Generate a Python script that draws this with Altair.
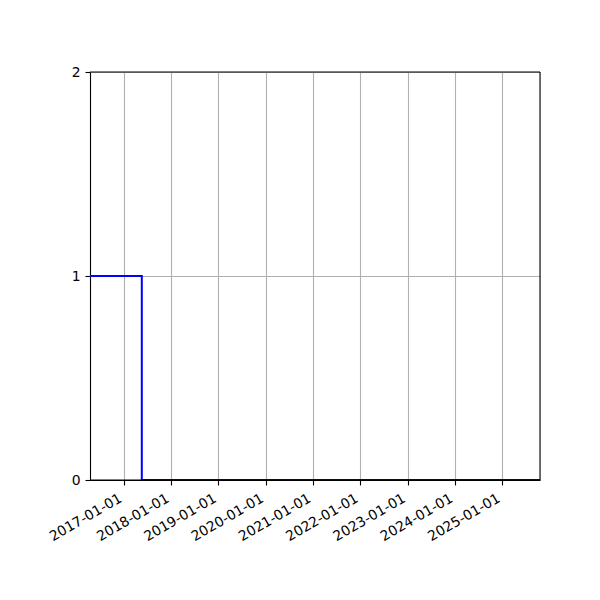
import altair as alt
import pandas as pd

dates = ["2016-04-15T00:00:00", "2017-05-20T00:00:00", "2025-10-20T00:00:00"]
values = [1, 0, 0]
x_domain = ["2016-04-15T00:00:00", "2025-10-20T00:00:00"]
tick_years = [2017, 2018, 2019, 2020, 2021, 2022, 2023, 2024, 2025]
y_domain = [0, 2]

df = pd.DataFrame({"date": dates, "value": values})

font = "DejaVu Sans"
xscale = alt.Scale(domain=x_domain, nice=False)
yscale = alt.Scale(domain=y_domain, nice=False)

x_axis = alt.Axis(
    values=[alt.DateTime(year=y, month=1, date=1) for y in tick_years],
    format="%Y-%m-%d",
    labelAngle=-30,
    labelAlign="right",
    labelBaseline="top",
    labelFont=font,
    labelFontSize=13.9,
    labelColor="black",
    labelPadding=6,
    labelOffset=-7,
    labelOverlap=False,
    tickColor="black",
    tickSize=5,
    tickWidth=1.1,
    domainColor="black",
    domainWidth=1.1,
    grid=True,
    gridColor="#b0b0b0",
    gridWidth=1.1,
    title=None,
)
y_axis = alt.Axis(
    tickCount=2,
    format="d",
    labelFont=font,
    labelFontSize=13.9,
    labelColor="black",
    labelPadding=5,
    labelOverlap=False,
    labelFlush=False,
    labelBound=False,
    tickColor="black",
    tickSize=5,
    tickWidth=1.1,
    domainColor="black",
    domainWidth=1.1,
    grid=True,
    gridColor="#b0b0b0",
    gridWidth=1.1,
    title=None,
)

line = alt.Chart(df).mark_line(interpolate="step-after", color="#0000ff", strokeWidth=2.0, clip=True).encode(
    x=alt.X("date:T", scale=xscale, axis=x_axis),
    y=alt.Y("value:Q", scale=yscale, axis=y_axis),
)

spine_h = alt.Chart(pd.DataFrame({"v": y_domain})).mark_rule(color="black", strokeWidth=1.1).encode(
    y=alt.Y("v:Q", scale=yscale, axis=y_axis)
)
spine_v = alt.Chart(pd.DataFrame({"d": [x_domain[1]]})).mark_rule(color="black", strokeWidth=1.1).encode(
    x=alt.X("d:T", scale=xscale, axis=x_axis)
)

chart = (
    alt.layer(line, spine_h, spine_v)
    .properties(
        width=450,
        height=408,
        autosize=alt.AutoSizeParams(type="none"),
        padding={"left": 82, "top": 64, "right": 52, "bottom": 112},
    )
    .configure_view(stroke="black", strokeWidth=1.1)
    .configure(background="white")
)

chart.save("out.html", embed_options={"renderer": "svg", "actions": False})
